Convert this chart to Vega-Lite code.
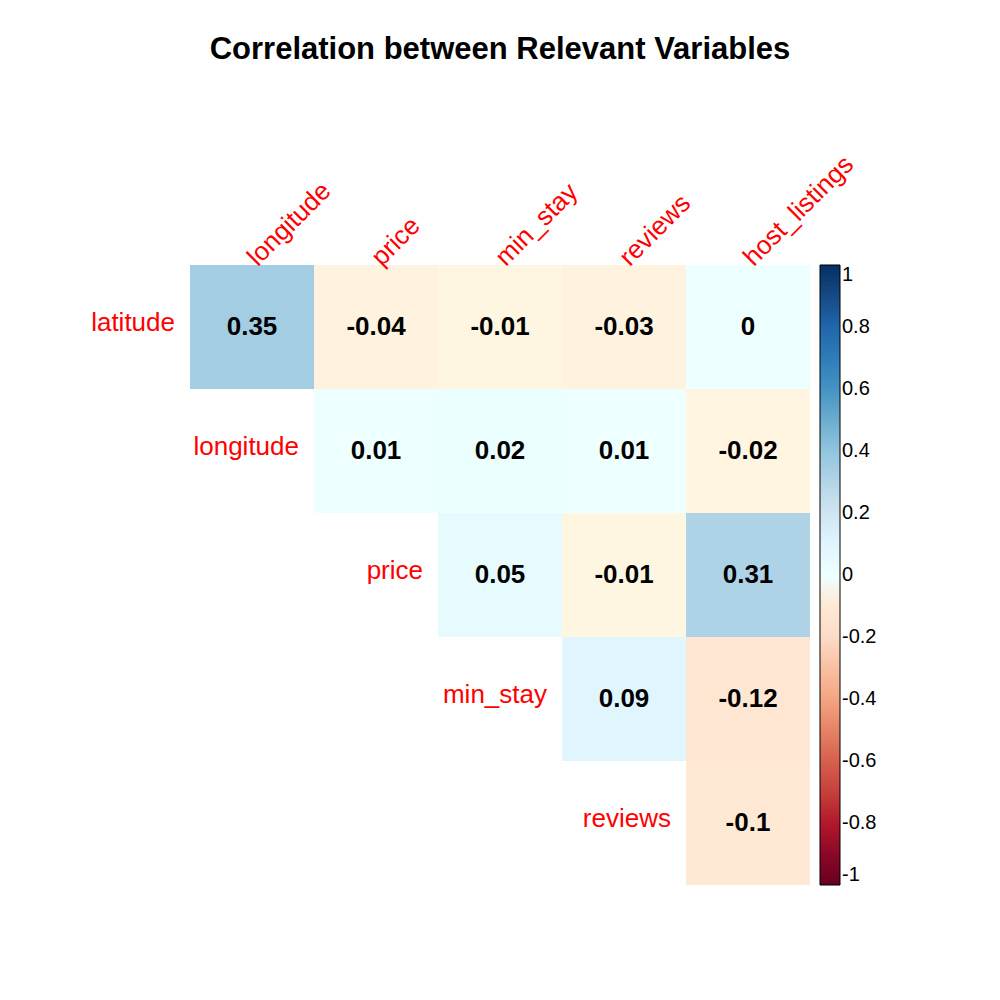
{
  "$schema": "https://vega.github.io/schema/vega-lite/v6.json",
  "autosize": {"type": "none"},
  "width": 620,
  "height": 620,
  "padding": {"left": 190, "top": 265, "right": 190, "bottom": 115},
  "background": "white",
  "config": {"view": {"stroke": null}},
  "title": {"text": "Correlation between Relevant Variables", "fontSize": 31, "font": "Liberation Sans", "fontWeight": "bold", "anchor": "middle", "offset": 85, "frame": "group"},
  "datasets": {
    "cells": [
      {"row": "latitude", "col": "longitude", "r": 0.35},
      {"row": "latitude", "col": "price", "r": -0.04},
      {"row": "latitude", "col": "min_stay", "r": -0.01},
      {"row": "latitude", "col": "reviews", "r": -0.03},
      {"row": "latitude", "col": "host_listings", "r": 0},
      {"row": "longitude", "col": "price", "r": 0.01},
      {"row": "longitude", "col": "min_stay", "r": 0.02},
      {"row": "longitude", "col": "reviews", "r": 0.01},
      {"row": "longitude", "col": "host_listings", "r": -0.02},
      {"row": "price", "col": "min_stay", "r": 0.05},
      {"row": "price", "col": "reviews", "r": -0.01},
      {"row": "price", "col": "host_listings", "r": 0.31},
      {"row": "min_stay", "col": "reviews", "r": 0.09},
      {"row": "min_stay", "col": "host_listings", "r": -0.12},
      {"row": "reviews", "col": "host_listings", "r": -0.1}
    ],
    "rowlabels": [
      {"row": "latitude", "col": "longitude"},
      {"row": "longitude", "col": "price"},
      {"row": "price", "col": "min_stay"},
      {"row": "min_stay", "col": "reviews"},
      {"row": "reviews", "col": "host_listings"}
    ]
  },
  "data": {"name": "cells"},
  "encoding": {
    "x": {"field": "col", "type": "nominal", "sort": ["longitude", "price", "min_stay", "reviews", "host_listings"],
      "scale": {"paddingInner": 0, "paddingOuter": 0},
      "axis": {"orient": "top", "title": null, "domain": false, "ticks": false, "labelAngle": -45, "labelAlign": "left", "labelBaseline": "middle", "labelColor": "red", "labelFontSize": 26, "labelFont": "Liberation Sans", "labelPadding": 4, "labelLimit": 300}},
    "y": {"field": "row", "type": "nominal", "sort": ["latitude", "longitude", "price", "min_stay", "reviews"],
      "scale": {"paddingInner": 0, "paddingOuter": 0}, "axis": null}
  },
  "layer": [
    {"mark": {"type": "rect"},
      "encoding": {"color": {"field": "r", "type": "quantitative",
        "scale": {"domain": [-1, -0.8, -0.6, -0.4, -0.2, 0, 0.2, 0.4, 0.6, 0.8, 1],
          "range": ["#67001F", "#B2182B", "#D6604D", "#F4A582", "#FDDBC7", "#FFFFFF", "#D1E5F0", "#92C5DE", "#4393C3", "#2166AC", "#053061"]},
        "legend": {"orient": "none", "legendX": 630, "legendY": 0, "title": null, "direction": "vertical", "gradientLength": 620, "gradientThickness": 20, "gradientStrokeColor": "black", "gradientStrokeWidth": 1, "values": [-1, -0.8, -0.6, -0.4, -0.2, 0, 0.2, 0.4, 0.6, 0.8, 1], "labelExpr": "toString(datum.value)", "labelFontSize": 20, "labelFont": "Liberation Sans", "labelColor": "black", "labelOverlap": false, "labelOffset": 2}}}},
    {"transform": [{"calculate": "toString(datum.r)", "as": "lab"}],
      "mark": {"type": "text", "fontSize": 26, "fontWeight": "bold", "font": "Liberation Sans", "color": "black"},
      "encoding": {"text": {"field": "lab"}}},
    {"data": {"name": "rowlabels"},
      "mark": {"type": "text", "fontSize": 26, "font": "Liberation Sans", "color": "red", "align": "right", "dx": -15, "dy": -4},
      "encoding": {"x": {"field": "col", "type": "nominal", "sort": ["longitude", "price", "min_stay", "reviews", "host_listings"], "bandPosition": 0},
        "text": {"field": "row"}}}
  ]
}
